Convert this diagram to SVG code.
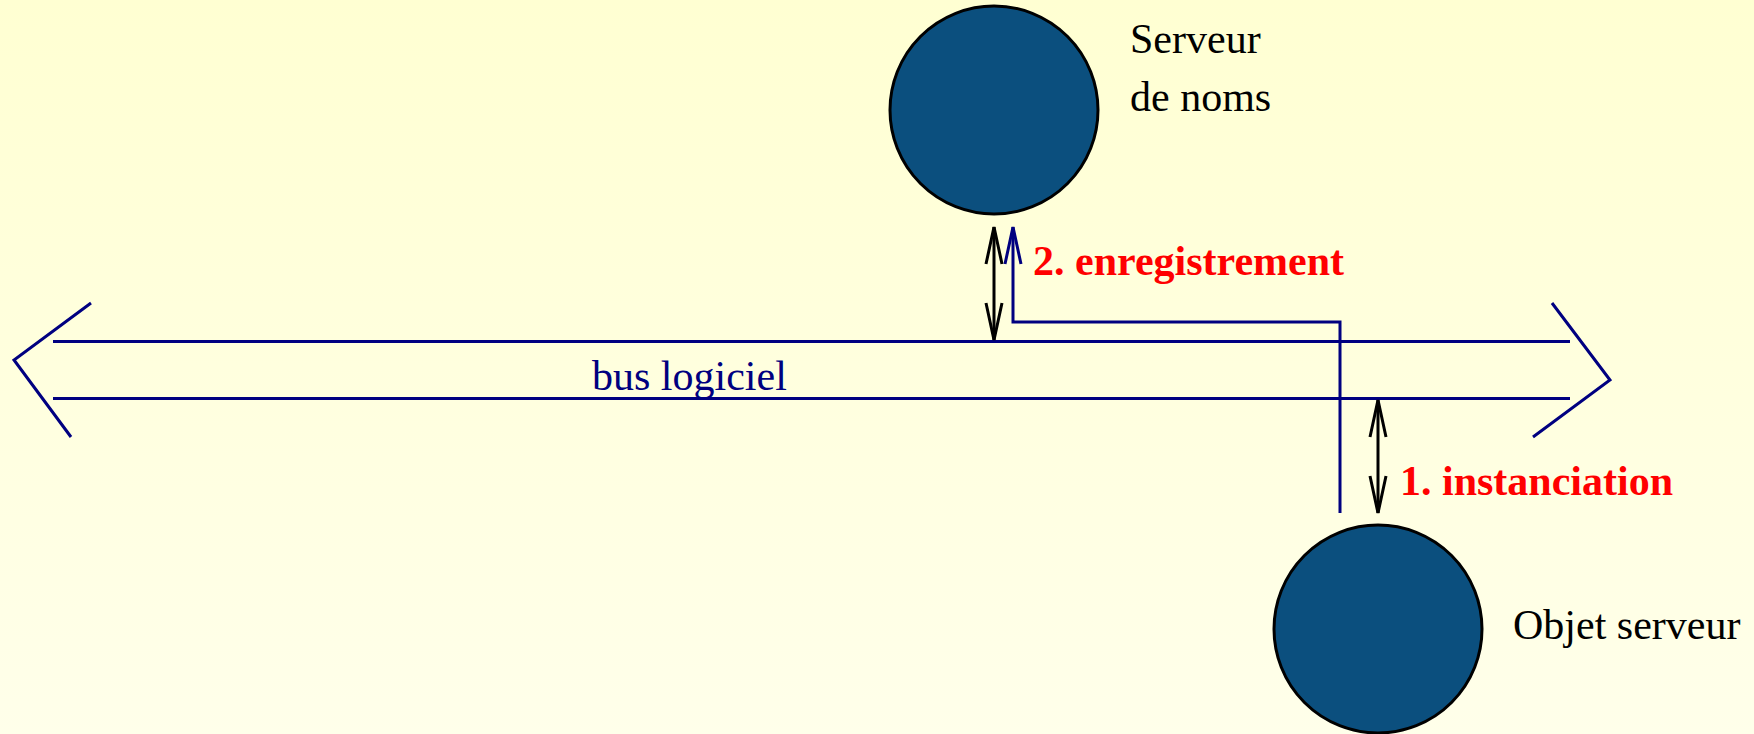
<svg xmlns="http://www.w3.org/2000/svg" width="1754" height="734" viewBox="0 0 1754 734">
  <defs>
    <linearGradient id="bg" x1="0" y1="0" x2="0" y2="1">
      <stop offset="0" stop-color="#ffffd2"/>
      <stop offset="1" stop-color="#ffffea"/>
    </linearGradient>
    <marker id="ahBlack" viewBox="-40 -10 42 20" refX="0" refY="0" markerWidth="42" markerHeight="20" markerUnits="userSpaceOnUse" orient="auto-start-reverse" overflow="visible">
      <path d="M -37,-8 L 0,0 L -37,8" fill="none" stroke="#000" stroke-width="3"/>
    </marker>
    <marker id="ahBlue" viewBox="-40 -10 42 20" refX="0" refY="0" markerWidth="42" markerHeight="20" markerUnits="userSpaceOnUse" orient="auto-start-reverse" overflow="visible">
      <path d="M -37,-8 L 0,0 L -37,8" fill="none" stroke="#000080" stroke-width="3"/>
    </marker>
    <style>
      .node { fill: #0b4f7e; stroke: #000; stroke-width: 3; }
      .lbl { font-family: "Liberation Serif", "Times New Roman", serif; font-size: 42px; fill: #000; }
      .step { font-family: "Liberation Serif", "Times New Roman", serif; font-size: 42px; font-weight: bold; fill: #ff0000; }
      .bus { fill: none; stroke: #000080; stroke-width: 3; }
      .busl { font-family: "Liberation Serif", "Times New Roman", serif; font-size: 42px; fill: #000080; }
      .blk { fill: none; stroke: #000; stroke-width: 3; }
    </style>
  </defs>
  <rect x="0" y="0" width="1754" height="734" fill="url(#bg)"/>

  <g id="bus">
    <line class="bus" x1="53" y1="341.5" x2="1570" y2="341.5"/>
    <line class="bus" x1="53" y1="398.5" x2="1570" y2="398.5"/>
    <polyline class="bus" points="91,303 14,360 71,437"/>
    <polyline class="bus" points="1552,303 1610,380 1533,437"/>
    <text class="busl" x="592" y="390">bus logiciel</text>
  </g>

  <g id="serveur-de-noms">
    <circle class="node" cx="994" cy="110" r="104"/>
    <text class="lbl" x="1130" y="53">Serveur</text>
    <text class="lbl" x="1130" y="111">de noms</text>
  </g>

  <g id="objet-serveur">
    <circle class="node" cx="1378" cy="629" r="104"/>
    <text class="lbl" x="1513" y="639">Objet serveur</text>
  </g>

  <g id="connectors">
    <line class="blk" x1="994" y1="340" x2="994" y2="227" marker-start="url(#ahBlack)" marker-end="url(#ahBlack)"/>
    <polyline class="bus" points="1340,513 1340,322 1013,322 1013,227" marker-end="url(#ahBlue)"/>
    <line class="blk" x1="1378" y1="513" x2="1378" y2="400" marker-start="url(#ahBlack)" marker-end="url(#ahBlack)"/>
    <text class="step" x="1033" y="275">2. enregistrement</text>
    <text class="step" x="1400" y="495">1. instanciation</text>
  </g>
</svg>
